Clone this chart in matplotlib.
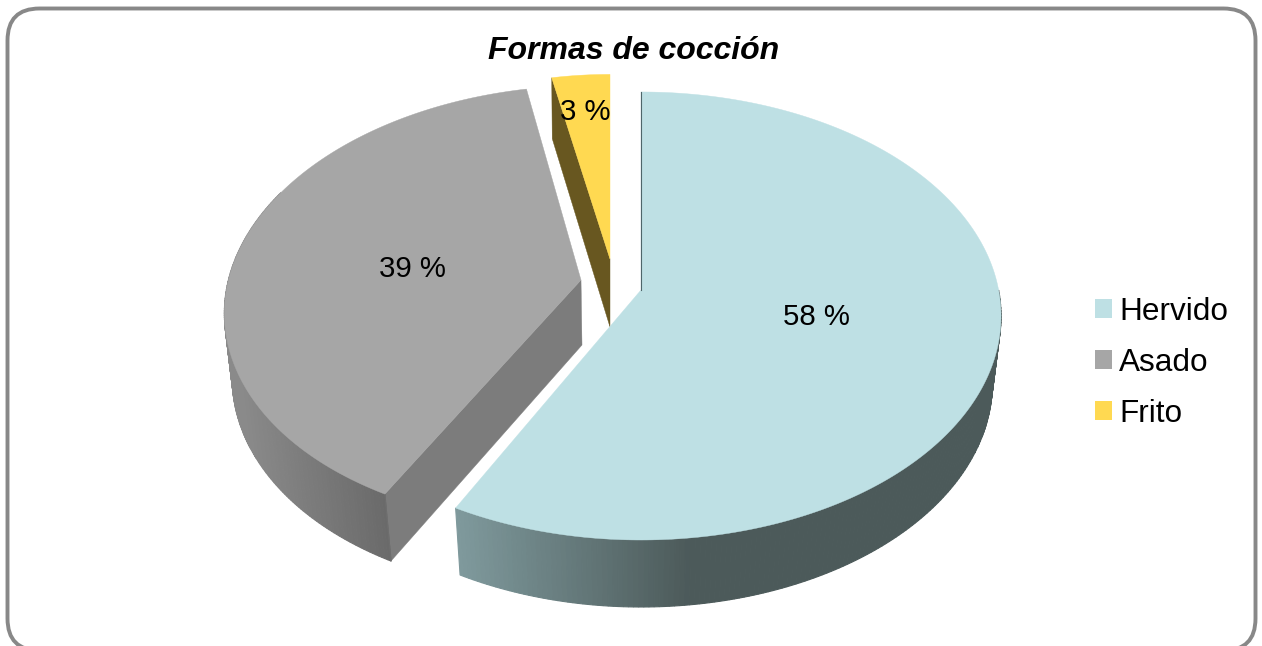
import numpy as np
import matplotlib
matplotlib.use("Agg")
import matplotlib.pyplot as plt
from matplotlib.colors import to_rgb
from matplotlib.patches import FancyBboxPatch, Patch

plt.rcParams['font.family'] = ['Liberation Sans', 'DejaVu Sans']

# --- data ---
categories = ["Hervido", "Asado", "Frito"]
values = [57.7, 39.1, 3.2]
title = "Formas de cocción"
top_colors = ["#BEE0E4", "#A6A6A6", "#FFD951"]

# --- projection of each exploded slice: centre x/y, half-axes, shear (top face, bottom face)
K = 0.116
TOP = [(641, 290, 357.6, 221, 0), (578.4, 280, 350, 217, 12.3), (610, 259, 325, 206, 0)]
BOT = [(641, 357, 349, 221, 0), (580, 345, 344, 219, 10.8), (610, 327, 322, 214, 0)]
APEX_TOP = [(641, 290), (581, 280), (610, 259)]
APEX_BOT = [(641, 357), (582, 345), (610, 327)]


def proj(p, t):
    cx, cy, b, a, c = p
    u, v = np.cos(t), np.sin(t)
    d = 1 + K * v
    return cx + (b * u + c * v) / d, cy - a * v / d


fig = plt.figure(figsize=(12.62, 6.46), dpi=100)
ax = fig.add_axes([0, 0, 1, 1])
ax.set_xlim(0, 1262)
ax.set_ylim(646, 0)
ax.axis("off")

ax.add_patch(FancyBboxPatch((7.5, 8.5), 1248, 642, boxstyle="round,pad=0,rounding_size=32",
                            fc="white", ec="#888888", lw=2.8, zorder=0))

edges = np.radians(90 - 3.6 * np.cumsum([0] + values))
spans = [(edges[0], edges[1]), (edges[1], edges[2]), (edges[2], edges[3])]


def mix(x, x0, x1, c0, c1):
    f = np.clip((x - x0) / (x1 - x0), 0, 1)
    return tuple((1 - f) * np.array(to_rgb(c0)) + f * np.array(to_rgb(c1)))


def outer_wall(i, t0, t1, x0, x1, c0, c1, z):
    ts = np.linspace(t0, t1, 160)
    for a, b in zip(ts[:-1], ts[1:]):
        xa, ya = proj(TOP[i], a)
        xb, yb = proj(TOP[i], b)
        xc, yc = proj(BOT[i], b)
        xd, yd = proj(BOT[i], a)
        col = mix((xa + xb) / 2, x0, x1, c0, c1)
        ax.fill([xa, xb, xc, xd], [ya, yb, yc, yd], color=col, lw=0.8, zorder=z)


def top_face(i, z):
    ts = np.linspace(spans[i][0], spans[i][1], 300)
    xs, ys = proj(TOP[i], ts)
    ax.fill(np.r_[APEX_TOP[i][0], xs], np.r_[APEX_TOP[i][1], ys], color=top_colors[i], lw=0.3, zorder=z)


def radial_wall(i, t, color, z):
    xa, ya = proj(TOP[i], t)
    xb, yb = proj(BOT[i], t)
    ax.fill([APEX_TOP[i][0], xa, xb, APEX_BOT[i][0]], [APEX_TOP[i][1], ya, yb, APEX_BOT[i][1]],
            color=color, lw=0.3, zorder=z)


# Frito
radial_wall(2, spans[2][0], "#685720", 2)
top_face(2, 3)

# Asado
radial_wall(1, spans[1][0], "#7C7C7C", 2)
outer_wall(1, spans[1][0], np.radians(-205), 240, 385, "#8A8A8A", "#6A6A6A", 2.2)
xa0, ya0 = proj(TOP[1], spans[1][0])
xa1, ya1 = proj(BOT[1], spans[1][0])
ax.plot([xa0, xa1], [ya0, ya1], color="#6E6E6E", lw=0.8, zorder=2.5)
top_face(1, 3)

# Hervido
outer_wall(0, spans[0][1], 0.0, 456, 690, "#7F9A9D", "#4C5A5A", 2)
top_face(0, 3)
xr, yr = proj(TOP[0], spans[0][0])
ax.plot([xr, APEX_TOP[0][0]], [yr, APEX_TOP[0][1]], color="#4F666A", lw=0.8, zorder=3.5)

# data labels
label_xy = [(816, 317), (412, 269), (585, 112)]
for v, (x, y) in zip(values, label_xy):
    ax.text(x, y, f"{round(v)} %", fontsize=21.2, color="black", ha="center", va="center", zorder=5)

ax.text(633.5, 51, title, fontsize=23, fontweight="bold", fontstyle="italic",
        ha="center", va="center", color="black", zorder=5)

handles = [Patch(fc=c, ec="none") for c in top_colors]
leg = ax.legend(handles, categories, loc="upper left", bbox_to_anchor=(1095, 297),
                bbox_transform=ax.transData, frameon=False, fontsize=22.7,
                handlelength=0.54, handleheight=0.54, handletextpad=0.22,
                labelspacing=0.66, borderpad=0, borderaxespad=0)
leg.set_zorder(5)

fig.savefig("out.png", dpi=100, facecolor="white")
